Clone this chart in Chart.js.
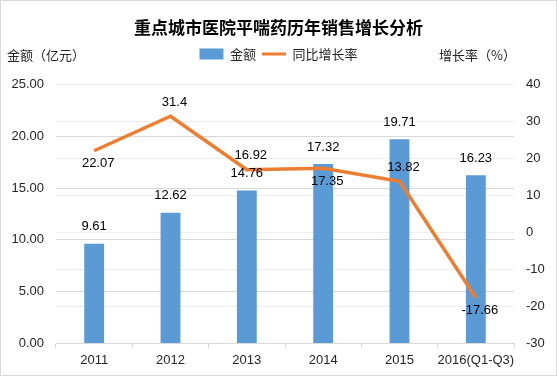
<!DOCTYPE html>
<html><head><meta charset="utf-8">
<script src="https://cdn.jsdelivr.net/npm/chart.js@4/dist/chart.umd.min.js"></script>
<style>html,body{margin:0;padding:0;background:#fff}#wrap{width:557px;height:376px;position:relative}</style>
</head><body><div id="wrap"><canvas id="c" width="557" height="376"></canvas></div>
<script>
const categories = ['2011','2012','2013','2014','2015','2016(Q1-Q3)'];
const amount = [9.61, 12.62, 14.76, 17.32, 19.71, 16.23];
const growth = [22.07, 31.4, 16.92, 17.35, 13.82, -17.66];
const amountLabel = '金额';
const growthLabel = '同比增长率';
const chartTitle = '重点城市医院平喘药历年销售增长分析';
const leftAxisTitle = '金额（亿元）';
const rightAxisTitle = '增长率（%）';

const FONT = '"Liberation Sans","Noto Sans CJK SC",sans-serif';
const CJK = '"Noto Sans CJK SC","Liberation Sans",sans-serif';
const TXT = '#262626';

const lineLabelPos = ['below','above','above','below','above','below'];

const decorPlugin = {
  id: 'decor',
  afterInit(chart) {
    const lg = chart.legend;
    if (lg) {
      const orig = lg.fit;
      lg.fit = function () { orig.call(this); this.height += 14; };
    }
  },
  beforeDraw(chart) {
    const ctx = chart.ctx;
    ctx.save();
    ctx.fillStyle = '#fff';
    ctx.fillRect(0, 0, chart.width, chart.height);
    ctx.strokeStyle = '#D9D9D9';
    ctx.lineWidth = 1;
    ctx.strokeRect(0.5, 0.5, chart.width - 1, chart.height - 1);
    ctx.restore();
  },
  afterDraw(chart) {
    const ctx = chart.ctx;
    ctx.save();
    ctx.font = '13px ' + CJK;
    ctx.fillStyle = TXT;
    ctx.textBaseline = 'middle';
    ctx.textAlign = 'left';
    ctx.fillText(leftAxisTitle, 7, 55);
    ctx.textAlign = 'right';
    ctx.fillText(rightAxisTitle, 516, 55);
    ctx.restore();
  },
  afterDatasetsDraw(chart) {
    const ctx = chart.ctx;
    ctx.save();
    ctx.font = '13px ' + FONT;
    ctx.fillStyle = '#000';
    ctx.textAlign = 'center';
    ctx.textBaseline = 'middle';
    const barMeta = chart.getDatasetMeta(0);
    barMeta.data.forEach((el, i) => {
      ctx.fillText(amount[i].toFixed(2), el.x, el.y - 17);
    });
    const lineMeta = chart.getDatasetMeta(1);
    lineMeta.data.forEach((el, i) => {
      const dy = lineLabelPos[i] === 'above' ? -14 : 13;
      ctx.fillText(String(growth[i]), el.x + 4, el.y + dy);
    });
    ctx.restore();
  }
};

new Chart(document.getElementById('c'), {
  type: 'bar',
  data: {
    labels: categories,
    datasets: [
      { type: 'bar', label: amountLabel, data: amount, backgroundColor: '#5B9BD5', yAxisID: 'y', order: 1,
        barPercentage: 0.52, categoryPercentage: 0.5 },
      { type: 'line', label: growthLabel, data: growth, borderColor: '#ED7D31', backgroundColor: '#ED7D31',
        borderWidth: 3.5, pointRadius: 0, tension: 0, yAxisID: 'y1', order: 0 }
    ]
  },
  options: {
    responsive: false,
    animation: false,
    devicePixelRatio: 1,
    layout: { padding: { top: 9, left: 0, right: 0, bottom: 4 } },
    plugins: {
      tooltip: { enabled: false },
      title: { display: true, text: chartTitle, color: '#000',
        font: { family: CJK, size: 17, weight: 'bold' }, padding: { top: 8, bottom: 4 } },
      legend: {
        display: true,
        position: 'top',
        labels: {
          color: TXT,
          font: { family: CJK, size: 13 },
          usePointStyle: true,
          pointStyleWidth: 24,
          boxHeight: 11,
          padding: 6,
          generateLabels(chart) {
            return chart.data.datasets.map((ds, i) => ({
              text: ds.label,
              fillStyle: ds.backgroundColor,
              strokeStyle: ds.type === 'line' ? ds.borderColor : ds.backgroundColor,
              lineWidth: ds.type === 'line' ? 3 : 0,
              pointStyle: ds.type === 'line' ? 'line' : 'rect',
              hidden: false,
              datasetIndex: i,
              fontColor: TXT
            }));
          }
        }
      }
    },
    scales: {
      x: {
        grid: { display: true, drawOnChartArea: false, drawTicks: true, tickLength: 5, color: '#D9D9D9', offset: true },
        border: { color: '#D9D9D9' },
        ticks: { color: TXT, font: { family: FONT, size: 13 }, padding: 4, maxRotation: 0, autoSkip: false }
      },
      y: {
        position: 'left', min: 0, max: 25,
        ticks: { stepSize: 5, color: TXT, font: { family: FONT, size: 13 }, padding: 12,
          callback: v => v.toFixed(2) },
        grid: { color: '#D9D9D9', drawTicks: false },
        border: { display: false },
        afterFit(s) { s.width = 56; }
      },
      y1: {
        position: 'right', min: -30, max: 40,
        ticks: { stepSize: 10, color: TXT, font: { family: FONT, size: 13 }, padding: 12 },
        grid: { color: '#EEEEEE', drawTicks: false },
        border: { display: false },
        afterFit(s) { s.width = 43; }
      }
    }
  },
  plugins: [decorPlugin]
});
</script>
</body></html>
